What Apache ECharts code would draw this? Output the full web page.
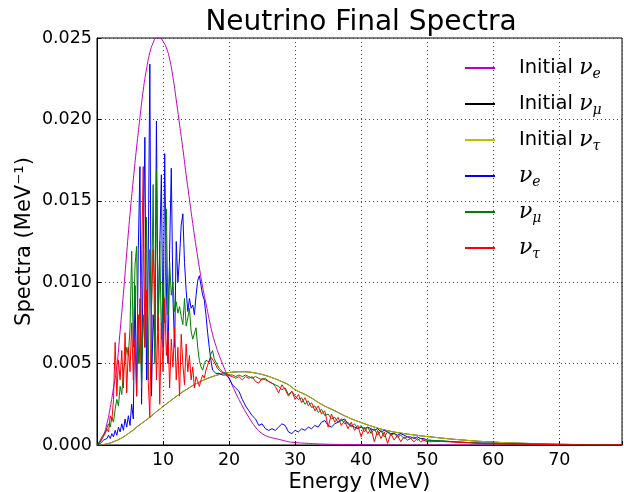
<!DOCTYPE html>
<html>
<head>
<meta charset="utf-8">
<script src="https://cdn.jsdelivr.net/npm/echarts@6/dist/echarts.min.js"></script>
<style>
  html, body { margin: 0; padding: 0; background: #fff; }
  #chart { width: 624px; height: 492px; }
</style>
</head>
<body>
<div id="chart"></div>
<script>
  // energy grid of the smooth initial spectra (MeV)
  const energySmooth = [
    0, 0.5, 1, 1.5, 2, 2.5, 3, 3.5, 4, 4.5, 5, 5.5, 6, 6.5, 7, 7.5, 8, 8.5, 9, 9.5,
    10, 10.5, 11, 11.5, 12, 12.5, 13, 13.5, 14, 14.5, 15, 15.5, 16, 16.5, 17, 17.5, 18, 18.5, 19, 19.5,
    20, 21, 22, 23, 24, 25, 26, 27, 28, 29, 30,
    32, 34, 36, 38, 40, 42, 44, 46, 48, 50,
    55, 60, 65, 70, 75, 79.5
  ]

  const initialNuE = [
    0, 0.0002, 0.0006, 0.0013, 0.0023, 0.0035, 0.0048, 0.0070, 0.0093, 0.0118,
    0.0142, 0.0163, 0.0183, 0.0201, 0.0218, 0.0231, 0.0241, 0.0247, 0.0250, 0.0250,
    0.0248, 0.0244, 0.0237, 0.0226, 0.0212, 0.0197, 0.0182, 0.0166, 0.0151, 0.0136,
    0.0122, 0.0109, 0.0097, 0.0087, 0.0077, 0.0068, 0.0061, 0.0055, 0.0050, 0.0045,
    0.0041, 0.0032, 0.0024, 0.0017, 0.0011, 0.0007, 0.0005, 0.0004, 0.0003, 0.0002, 0.00015,
    0.0001, 0.00006, 0.00004, 0.00003, 0.00002, 0.00001, 0.00001, 0, 0, 0,
    0, 0, 0, 0, 0, 0
  ]

  const initialNuMu = [
    0, 0.00001, 0.00003, 0.00007, 0.00012, 0.0002, 0.00028, 0.00038, 0.0005, 0.00063,
    0.00078, 0.00092, 0.0011, 0.00125, 0.0014, 0.00155, 0.0017, 0.00187, 0.00205, 0.0022,
    0.00237, 0.00252, 0.00268, 0.00283, 0.00298, 0.00313, 0.00327, 0.0034, 0.00353, 0.00365,
    0.00376, 0.00387, 0.00396, 0.00405, 0.00413, 0.0042, 0.00427, 0.00433, 0.00438, 0.00442,
    0.00445, 0.00449, 0.0045, 0.00448, 0.00442, 0.00433, 0.00421, 0.00406, 0.00389, 0.0037, 0.0034,
    0.0030, 0.0025, 0.0021, 0.0017, 0.00138, 0.0011, 0.00088, 0.00073, 0.00062, 0.00052,
    0.00032, 0.00018, 0.0001, 0.00005, 0.00002, 0.00001
  ]
  // nu_mu and nu_tau start identical (the black curve hides under the olive one)
  const initialNuTau = initialNuMu

  // energy grid of the oscillated spectra (MeV)
  const energy = [
    0, 0.25, 0.5, 0.75, 1, 1.25, 1.5, 1.75, 2, 2.25, 2.5, 2.75, 3, 3.25, 3.5, 3.75, 4, 4.25, 4.5, 4.75,
    5, 5.25, 5.5, 5.75, 6, 6.25, 6.5, 6.75, 7, 7.25, 7.5, 7.75, 8, 8.25, 8.5, 8.75, 9, 9.25, 9.5, 9.75,
    10, 10.25, 10.5, 10.75, 11, 11.25, 11.5, 11.75, 12, 12.25, 12.5, 12.75, 13, 13.25, 13.5, 13.75, 14, 14.25, 14.5, 14.75,
    15, 15.25, 15.5, 15.75, 16, 16.25, 16.5, 16.75, 17, 17.25, 17.5, 17.75, 18, 18.25, 18.5, 18.75, 19, 19.25, 19.5, 19.75, 20,
    20.5, 21, 21.5, 22, 22.5, 23, 23.5, 24, 24.5, 25,
    25.5, 26, 26.5, 27, 27.5, 28, 28.5, 29, 29.5, 30,
    30.5, 31, 31.5, 32, 32.5, 33, 33.5, 34, 34.5, 35,
    35.5, 36, 36.5, 37, 37.5, 38, 38.5, 39, 39.5, 40,
    40.5, 41, 41.5, 42, 42.5, 43, 43.5, 44, 44.5, 45,
    45.5, 46, 46.5, 47, 47.5, 48, 48.5, 49, 49.5, 50,
    52, 54, 56, 58, 60, 62, 64, 66, 68, 70, 72, 74, 76, 78, 79.5
  ]

  const finalNuE = [
    0, 0.0001, 0.0001, 0.0002, 0.0003, 0.0002, 0.0004, 0.0006, 0.0004, 0.0007, 0.0005, 0.0009, 0.0006, 0.0011, 0.0008, 0.0013, 0.0009, 0.0016, 0.0011, 0.0018,
    0.0012, 0.0025, 0.0016, 0.0098, 0.0030, 0.0120, 0.0171, 0.0025, 0.0120, 0.0189, 0.0040, 0.0110, 0.0234, 0.0030, 0.0080, 0.0060, 0.0199, 0.0070, 0.0120, 0.0166,
    0.0060, 0.0179, 0.0100, 0.0050, 0.0120, 0.0170, 0.0090, 0.0060, 0.0125, 0.0100, 0.0115, 0.0135, 0.0142, 0.0112, 0.0095, 0.0082, 0.0090, 0.0084, 0.0086, 0.0080,
    0.0092, 0.0101, 0.0104, 0.0098, 0.0092, 0.0089, 0.0080, 0.0069, 0.0060, 0.0052, 0.0046, 0.0045, 0.0044, 0.0045, 0.0044, 0.0044, 0.0043, 0.0044, 0.0043, 0.0042, 0.0041,
    0.0037, 0.0035, 0.0033, 0.0028, 0.0024, 0.0021, 0.0018, 0.0016, 0.0012, 0.0013,
    0.0010, 0.0009, 0.0010, 0.0009, 0.0011, 0.0013, 0.0012, 0.0008, 0.0007, 0.0009,
    0.0008, 0.0010, 0.0009, 0.0011, 0.0010, 0.0012, 0.0011, 0.0014, 0.0015, 0.0012,
    0.0011, 0.0013, 0.0014, 0.0015, 0.0016, 0.0013, 0.0012, 0.0011, 0.0010, 0.0011,
    0.0010, 0.0011, 0.0010, 0.0009, 0.0010, 0.0008, 0.0009, 0.0008, 0.0007, 0.0007,
    0.0006, 0.0007, 0.0006, 0.0005, 0.0005, 0.0004, 0.0005, 0.0004, 0.0004, 0.0003,
    0.00025, 0.0002, 0.00015, 0.00012, 0.0001, 0.00008, 0.00006, 0.00005, 0.00004, 0.00003, 0.00002, 0.00002, 0.00001, 0.00001, 0.00001
  ]

  const finalNuMu = [
    0, 0.0001, 0.0003, 0.0005, 0.0004, 0.0008, 0.0009, 0.0013, 0.0011, 0.0017, 0.0014, 0.0022, 0.0028, 0.0024, 0.0036, 0.0031, 0.0045, 0.0052, 0.0060, 0.0055,
    0.0072, 0.0119, 0.0060, 0.0110, 0.0122, 0.0050, 0.0090, 0.0035, 0.0080, 0.0060, 0.0140, 0.0040, 0.0120, 0.0080, 0.0160, 0.0050, 0.0169, 0.0070, 0.0125, 0.0065,
    0.0100, 0.0075, 0.0145, 0.0080, 0.0112, 0.0092, 0.0100, 0.0082, 0.0088, 0.0081, 0.0085, 0.0079, 0.0074, 0.0090, 0.0073, 0.0078, 0.0084, 0.0070, 0.0065, 0.0064,
    0.0072, 0.0060, 0.0052, 0.0048, 0.0046, 0.0050, 0.0052, 0.0053, 0.0051, 0.0056, 0.0058, 0.0053, 0.0052, 0.0049, 0.0047, 0.0046, 0.0045, 0.0045, 0.0044, 0.0044, 0.0043,
    0.0043, 0.0042, 0.0043, 0.0042, 0.0043, 0.0042, 0.0041, 0.0042, 0.0041, 0.0040,
    0.0041, 0.0039, 0.0038, 0.0037, 0.0036, 0.0034, 0.0035, 0.0031, 0.0033, 0.0030,
    0.0028, 0.0029, 0.0025, 0.0027, 0.0023, 0.0024, 0.0020, 0.0022, 0.0018, 0.0019,
    0.0016, 0.0017, 0.0014, 0.0016, 0.0013, 0.0014, 0.0011, 0.0013, 0.0010, 0.0012,
    0.0008, 0.0011, 0.0007, 0.0010, 0.0006, 0.0009, 0.0005, 0.0008, 0.0006, 0.0007,
    0.0005, 0.0006, 0.0004, 0.0005, 0.0004, 0.0005, 0.0003, 0.0004, 0.0003, 0.0003,
    0.00026, 0.0002, 0.00016, 0.00012, 0.0001, 0.00008, 0.00006, 0.00005, 0.00004, 0.00003, 0.00002, 0.00002, 0.00001, 0.00001, 0.00001
  ]

  const finalNuTau = [
    0, 0.0001, 0.0002, 0.0004, 0.0003, 0.0007, 0.0010, 0.0008, 0.0018, 0.0015, 0.0028, 0.0063, 0.0030, 0.0052, 0.0040, 0.0058, 0.0035, 0.0069, 0.0032, 0.0060,
    0.0045, 0.0075, 0.0040, 0.0065, 0.0030, 0.0080, 0.0050, 0.0110, 0.0171, 0.0060, 0.0095, 0.0040, 0.0017, 0.0085, 0.0120, 0.0095, 0.0040, 0.0080, 0.0025, 0.0075,
    0.0045, 0.0090, 0.0055, 0.0070, 0.0035, 0.0065, 0.0048, 0.0072, 0.0040, 0.0060, 0.0030, 0.0068, 0.0050, 0.0037, 0.0062, 0.0045, 0.0055, 0.0040, 0.0048, 0.0035,
    0.0042, 0.0039, 0.0036, 0.0040, 0.0043, 0.0041, 0.0046, 0.0049, 0.0052, 0.0054, 0.0055, 0.0051, 0.0050, 0.0047, 0.0046, 0.0045, 0.0044, 0.0044, 0.0043, 0.0043, 0.0042,
    0.0042, 0.0041, 0.0042, 0.0040, 0.0042, 0.0041, 0.0042, 0.0039, 0.0038, 0.0041,
    0.0040, 0.0039, 0.0038, 0.0036, 0.0032, 0.0037, 0.0034, 0.0030, 0.0033, 0.0028,
    0.0031, 0.0026, 0.0029, 0.0024, 0.0026, 0.0021, 0.0024, 0.0019, 0.0021, 0.0011,
    0.0019, 0.0014, 0.0017, 0.0012, 0.0015, 0.0010, 0.0014, 0.0009, 0.0012, 0.0005,
    0.0011, 0.0007, 0.0010, 0.0002, 0.0009, 0.0004, 0.0008, 0.0001, 0.0007, 0.0003,
    0.0006, 0.0002, 0.0005, 0.0003, 0.0004, 0.0002, 0.0004, 0.0002, 0.0003, 0.0002,
    0.00022, 0.00018, 0.00014, 0.0001, 0.00008, 0.00006, 0.00005, 0.00004, 0.00003, 0.00002, 0.00002, 0.00001, 0.00001, 0.00001, 0.00001
  ]

  const yTicks = [0, 0.005, 0.01, 0.015, 0.02, 0.025]
  const xTickLabels = [10, 20, 30, 40, 50, 60, 70]

  const pairs = (xs, ys) => xs.map((x, i) => [x, ys[i]])

  // legend text with math style subscripts
  const legendText = {
    'Initial νe': 'Initial {nu|ν}{sub|e}',
    'Initial νμ': 'Initial {nu|ν}{sub|μ}',
    'Initial ντ': 'Initial {nu|ν}{sub|τ}',
    'νe': '{nu|ν}{sub|e}',
    'νμ': '{nu|ν}{sub|μ}',
    'ντ': '{nu|ν}{sub|τ}'
  }

  const chart = echarts.init(document.getElementById('chart'))

  const lineSeries = (name, xs, ys, color, smooth) => ({
    name: name,
    type: 'line',
    data: pairs(xs, ys),
    symbol: 'none',
    smooth: smooth,
    lineStyle: { color: color, width: 1 },
    itemStyle: { color: color },
    emphasis: { disabled: true }
  })

  const option = {
    animation: false,
    backgroundColor: '#fff',
    textStyle: { fontFamily: 'DejaVu Sans' },
    title: {
      text: 'Neutrino Final Spectra',
      left: 361,
      top: 9,
      padding: 0,
      textAlign: 'center',
      textStyle: { fontSize: 28, fontWeight: 'normal', color: '#000', fontFamily: 'DejaVu Sans' }
    },
    legend: {
      orient: 'vertical',
      left: 465,
      top: 55,
      icon: 'path://M0,0H30V2H0Z',
      itemWidth: 30,
      itemHeight: 2,
      itemGap: 10,
      padding: 0,
      selectedMode: false,
      itemStyle: { borderWidth: 0 },
      lineStyle: { width: 0 },
      formatter: name => legendText[name],
      textStyle: {
        fontFamily: 'DejaVu Sans',
        fontSize: 19.5,
        color: '#000',
        lineHeight: 26,
        padding: [0, 0, 0, 19],
        rich: {
          nu: { fontFamily: 'DejaVu Serif', fontStyle: 'italic', fontSize: 22, lineHeight: 26, color: '#000' },
          sub: { fontFamily: 'DejaVu Serif', fontStyle: 'italic', fontSize: 14, lineHeight: 12, verticalAlign: 'bottom', color: '#000' }
        }
      }
    },
    grid: {
      left: 97,
      right: 2,
      top: 38,
      bottom: 47,
      outerBoundsMode: 'none',
      containLabel: false,
      show: true,
      borderColor: '#000',
      borderWidth: 1
    },
    xAxis: {
      type: 'value',
      min: 0,
      max: 79.5,
      interval: 10,
      name: 'Energy (MeV)',
      nameLocation: 'middle',
      nameMoveOverlap: false,
      nameGap: 27,
      nameTextStyle: { fontSize: 21, color: '#000', fontFamily: 'DejaVu Sans' },
      axisLine: { lineStyle: { color: '#000', width: 1 } },
      axisTick: { inside: true, length: 4, lineStyle: { color: '#000' } },
      axisLabel: {
        fontSize: 17.5,
        color: '#000',
        margin: 6,
        formatter: v => (xTickLabels.indexOf(v) >= 0 ? String(v) : '')
      },
      splitLine: { show: true, lineStyle: { color: '#444', width: 1, type: [1, 3] } }
    },
    yAxis: {
      type: 'value',
      min: yTicks[0],
      max: yTicks[yTicks.length - 1],
      interval: 0.005,
      name: 'Spectra (MeV⁻¹)',
      nameLocation: 'middle',
      nameMoveOverlap: false,
      nameGap: 62,
      nameTextStyle: { fontSize: 21, color: '#000', fontFamily: 'DejaVu Sans' },
      axisLine: { show: true, lineStyle: { color: '#000', width: 1 } },
      axisTick: { show: true, inside: true, length: 4, lineStyle: { color: '#000' } },
      axisLabel: {
        fontSize: 17.5,
        color: '#000',
        margin: 5,
        formatter: v => v.toFixed(3)
      },
      splitLine: { show: true, lineStyle: { color: '#444', width: 1, type: [1, 3] } }
    },
    series: [
      lineSeries('Initial νe', energySmooth, initialNuE, '#bf00bf', true),
      lineSeries('Initial νμ', energySmooth, initialNuMu, '#000000', true),
      lineSeries('Initial ντ', energySmooth, initialNuTau, '#bfbf00', true),
      lineSeries('νe', energy, finalNuE, '#0000ff', false),
      lineSeries('νμ', energy, finalNuMu, '#008000', false),
      lineSeries('ντ', energy, finalNuTau, '#ff0000', false)
    ]
  }

  chart.setOption(option)
</script>
</body>
</html>
